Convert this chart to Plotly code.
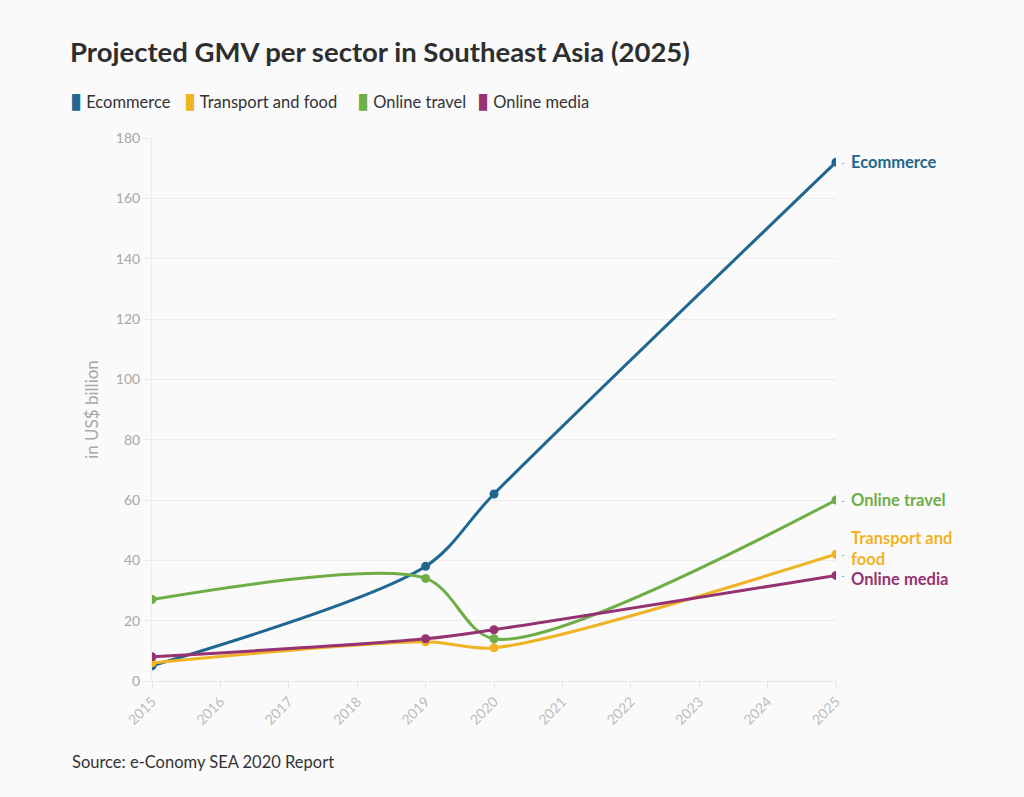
import plotly.graph_objects as go

years = [2015, 2019, 2020, 2025]
ecommerce = [5, 38, 62, 172]
transport_food = [6, 13, 11, 42]
online_travel = [27, 34, 14, 60]
online_media = [8, 14, 17, 35]

series_names = ["Ecommerce", "Transport and food", "Online travel", "Online media"]
series_values = [ecommerce, transport_food, online_travel, online_media]
colors = ["#1f6790", "#f0b323", "#6eae47", "#953272"]
end_labels = ["Ecommerce", "Transport and<br>food", "Online travel", "Online media"]
label_offsets = [0, 6, 0, -4]  # pixel nudges for end labels
legend_x_px = [68, 182, 355, 475]  # legend item left edges (px)

x_ticks = list(range(2015, 2026))

FONT = "Source Sans Pro, Lato, Noto Sans, sans-serif"
L, R, T, B = 152, 188, 138, 116
PW, PH = 1024 - L - R, 797 - T - B


def px_x(px):
    return (px - L) / PW


def px_y(py):
    return (797 - B - py) / PH


fig = go.Figure()

for name, vals, col in zip(series_names, series_values, colors):
    fig.add_trace(go.Scatter(
        x=years, y=vals, mode="lines+markers", name=name,
        line=dict(color=col, width=3, shape="spline", smoothing=0.85),
        marker=dict(color=col, size=9),
        showlegend=False, hoverinfo="x+y+name",
    ))

for lab, vals, col, off in zip(end_labels, series_values, colors, label_offsets):
    fig.add_annotation(
        x=years[-1], y=vals[-1], xref="x", yref="y",
        text="<b>" + lab + "</b>", showarrow=False,
        xanchor="left", yanchor="middle", align="left",
        xshift=13, yshift=off,
        font=dict(family=FONT, size=16.5, color=col),
    )
    fig.add_annotation(
        x=years[-1], y=vals[-1], xref="x", yref="y",
        text="-", showarrow=False, xanchor="left", yanchor="middle",
        xshift=3, font=dict(family=FONT, size=11, color="#aaaaaa"),
    )

# legend drawn as annotations (swatch + name)
for name, col, lx in zip(series_names, colors, legend_x_px):
    fig.add_annotation(
        xref="paper", yref="paper", x=px_x(lx), y=px_y(100),
        xanchor="left", yanchor="middle", showarrow=False,
        text='<span style="color:%s;font-size:22px">▮</span> %s' % (col, name),
        font=dict(family=FONT, size=16.5, color="#333333"),
    )

fig.update_layout(
    width=1024, height=797,
    paper_bgcolor="#fafafa", plot_bgcolor="#fafafa",
    margin=dict(l=L, r=R, t=T, b=B),
    title=dict(
        text="<b>Projected GMV per sector in Southeast Asia (2025)</b>",
        x=70 / 1024, xanchor="left", y=1 - 52 / 797, yanchor="middle",
        font=dict(family=FONT, size=27.5, color="#2e2e2e"),
    ),
    font=dict(family=FONT),
    showlegend=False,
)

fig.update_xaxes(
    range=[2015, 2025], tickmode="array", tickvals=x_ticks,
    ticktext=[str(t) for t in x_ticks], tickangle=-45,
    tickfont=dict(family=FONT, size=14, color="#bdbdbd"),
    showgrid=False, zeroline=False, showline=True, linecolor="#e6e6e6",
    ticks="outside", ticklen=6, tickcolor="#e6e6e6",
)
fig.update_yaxes(
    range=[0, 180], tickmode="array", tickvals=list(range(0, 181, 20)),
    tickfont=dict(family=FONT, size=14, color="#a8a8a8"),
    showgrid=True, gridcolor="#ececec", gridwidth=1,
    zeroline=True, zerolinecolor="#e0e0e0",
    showline=True, linecolor="#ececec",
    ticks="outside", ticklen=8, tickcolor="#ececec",
    title=dict(text="in US$ billion", font=dict(family=FONT, size=17, color="#a8a8a8"), standoff=12),
)

fig.add_annotation(
    text="Source: e-Conomy SEA 2020 Report", xref="paper", yref="paper",
    x=px_x(70), y=px_y(762), xanchor="left", yanchor="middle",
    showarrow=False, font=dict(family=FONT, size=16.5, color="#333333"),
)

fig.write_html(
    "out.html",
    config={"displayModeBar": False},
    post_script="document.body.style.margin='0';document.body.style.background='#fafafa';",
)
